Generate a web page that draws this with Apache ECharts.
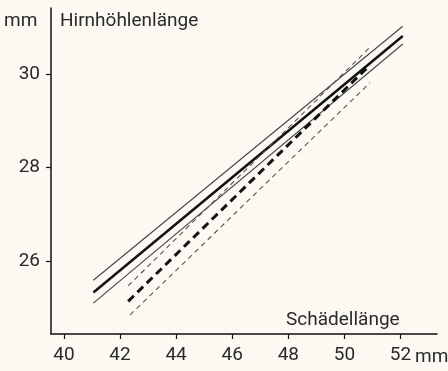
<!DOCTYPE html>
<html>
<head>
<meta charset="utf-8">
<script src="https://cdn.jsdelivr.net/npm/echarts@6/dist/echarts.min.js"></script>
<style>
  html, body { margin: 0; padding: 0; background: #fbf9f1; }
  #chart { width: 448px; height: 371px; }
</style>
</head>
<body>
<div id="chart"></div>
<script>
// tick labels
const xTicks = [40, 42, 44, 46, 48, 50, 52];
const yTicks = [26, 28, 30];

// solid group (x ends, then y for mean line and the two band lines)
const solidX = [41.05, 52.08];
const solidMid = [25.33, 30.82];
const solidUp = [25.59, 31.03];
const solidLow = [25.10, 30.65];

// dashed group
const dashedX = [42.29, 50.91];
const dashedLowX = [42.36, 50.91];
const dashedMid = [25.14, 30.20];
const dashedUp = [25.47, 30.58];
const dashedLow = [24.85, 29.82];

const zip = (xs, ys) => xs.map((x, i) => [x, ys[i]]);

const chart = echarts.init(document.getElementById('chart'));
const font = 'Roboto, "DejaVu Sans", sans-serif';
const ink = '#2a2a2a';

const line = (data, width, color, type) => ({
    type: 'line',
    data: data,
    showSymbol: false,
    symbol: 'none',
    silent: true,
    lineStyle: {width: width, color: color, type: type}
});

chart.setOption({
    animation: false,
    backgroundColor: '#fbf9f1',
    grid: {left: 51, top: 8, right: 11, bottom: 37},
    xAxis: {
        type: 'value',
        min: 39.54,
        max: 53.3,
        splitLine: {show: false},
        axisLine: {lineStyle: {color: '#111', width: 1.5}},
        axisTick: {customValues: xTicks, length: 5, lineStyle: {color: '#111', width: 1.2}},
        axisLabel: {customValues: xTicks, fontFamily: font, fontSize: 19, color: ink, margin: 12}
    },
    yAxis: {
        type: 'value',
        min: 24.44,
        max: 31.42,
        splitLine: {show: false},
        axisLine: {show: true, lineStyle: {color: '#111', width: 1.5}},
        axisTick: {show: true, customValues: yTicks, length: 5, lineStyle: {color: '#111', width: 1.2}},
        axisLabel: {customValues: yTicks, fontFamily: font, fontSize: 19, color: ink, margin: 11}
    },
    graphic: [
        {type: 'text', style: {text: 'mm', x: 4, y: 21, font: '19px ' + font, fill: ink, verticalAlign: 'middle'}},
        {type: 'text', style: {text: 'Hirnhöhlenlänge', x: 60, y: 21, font: '19px ' + font, fill: ink, verticalAlign: 'middle'}},
        {type: 'text', style: {text: 'Schädellänge', x: 286, y: 320, font: '19px ' + font, fill: ink, verticalAlign: 'middle'}},
        {type: 'text', style: {text: 'mm', x: 415, y: 357, font: '19px ' + font, fill: ink, verticalAlign: 'middle'}}
    ],
    series: [
        line(zip(solidX, solidUp), 1.1, '#444', 'solid'),
        line(zip(solidX, solidLow), 1.1, '#444', 'solid'),
        line(zip(solidX, solidMid), 2.5, '#111', 'solid'),
        line(zip(dashedX, dashedUp), 1.1, '#555', [5, 4]),
        line(zip(dashedLowX, dashedLow), 1.1, '#555', [5, 4]),
        line(zip(dashedX, dashedMid), 3, '#111', [8, 5])
    ]
});
</script>
</body>
</html>
